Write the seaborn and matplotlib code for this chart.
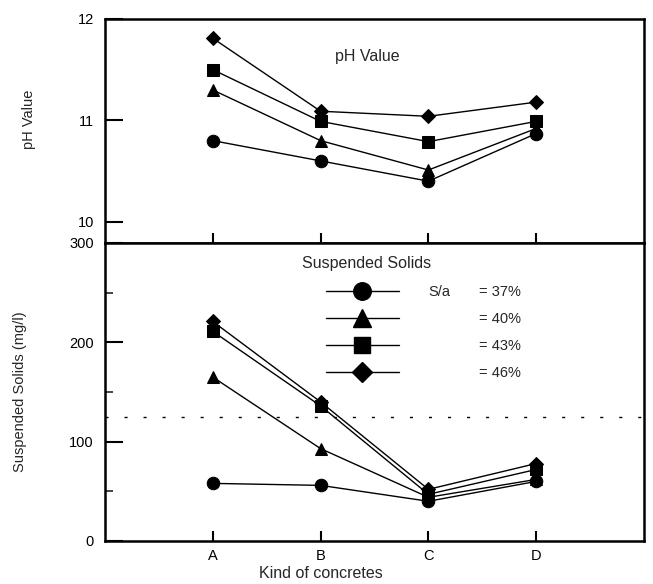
import matplotlib
matplotlib.use('Agg')
import matplotlib.pyplot as plt
import seaborn as sns
import pandas as pd
from matplotlib.lines import Line2D
from matplotlib.ticker import FixedLocator

# ---- data ----
categories = ['A', 'B', 'C', 'D']
sa_labels = ['= 37%', '= 40%', '= 43%', '= 46%']
ph_37 = [10.80, 10.60, 10.40, 10.87]
ph_40 = [11.30, 10.80, 10.51, 10.92]
ph_43 = [11.50, 10.99, 10.79, 10.99]
ph_46 = [11.81, 11.09, 11.04, 11.18]
ss_37 = [58, 56, 40, 60]
ss_40 = [165, 93, 44, 62]
ss_43 = [211, 136, 47, 72]
ss_46 = [221, 140, 52, 78]
ss_limit = 125

ph_series = [ph_37, ph_40, ph_43, ph_46]
ss_series = [ss_37, ss_40, ss_43, ss_46]
markers = ['o', '^', 's', 'D']
msizes = [9, 9, 8.5, 7.5]

rows = []
for lab, ph, ss in zip(sa_labels, ph_series, ss_series):
    for i, c in enumerate(categories):
        rows.append({'Kind': c, 'pos': i, 'S/a': lab, 'pH': ph[i], 'SS': ss[i]})
df = pd.DataFrame(rows)

sns.set_theme(style='white')
plt.rcParams['font.family'] = ['Liberation Sans', 'DejaVu Sans']

fig = plt.figure(figsize=(6.53, 5.84), dpi=100)
W, H = 653, 584
left, right = 105 / W, 644 / W
ax1 = fig.add_axes([left, 1 - 243 / H, right - left, (243 - 19) / H])
ax2 = fig.add_axes([left, 1 - 541 / H, right - left, (541 - 243) / H])

for lab, m, ms in zip(sa_labels, markers, msizes):
    sub = df[df['S/a'] == lab]
    sns.lineplot(data=sub, x='pos', y='pH', marker=m, markersize=ms, color='black',
                 linewidth=1, markeredgecolor='black', ax=ax1, legend=False)
    sns.lineplot(data=sub, x='pos', y='SS', marker=m, markersize=ms, color='black',
                 linewidth=1, markeredgecolor='black', ax=ax2, legend=False)

ax2.axhline(ss_limit, color='black', linewidth=1, linestyle=(0, (2.2, 11.5)))

for ax in (ax1, ax2):
    ax.set_xlim(-1, 4)
    ax.set_xticks(range(len(categories)))
    for s in ax.spines.values():
        s.set_color('black')
        s.set_linewidth(1.8)
    ax.tick_params(axis='both', direction='in', color='black', labelcolor='black',
                   labelsize=10.5, left=True, bottom=True, right=False, top=False)
    ax.tick_params(axis='y', length=13, width=1.5, pad=8)
    ax.tick_params(axis='x', length=7.5, width=1.5, pad=6)

ax1.set_ylim(9.79, 12)
ax1.set_yticks([10, 11, 12])
ax1.set_xticklabels([])
ax1.set_xlabel('')
ax1.set_ylabel('pH Value', fontsize=10.5)
ax1.yaxis.set_label_coords(-0.128, 0.55)
ax1.text(1.43, 11.63, 'pH Value', ha='center', va='center', fontsize=11.5)

ax2.set_ylim(0, 300)
ax2.set_yticks([0, 100, 200, 300])
ax2.yaxis.set_minor_locator(FixedLocator([50, 150, 250]))
ax2.tick_params(axis='y', which='minor', direction='in', length=6, width=1.2, left=True)
ax2.set_xticklabels(categories)
ax2.set_xlabel('Kind of concretes', fontsize=11.5, labelpad=2)
ax2.xaxis.set_label_coords(0.40, -0.085)
ax2.set_ylabel('Suspended Solids (mg/l)', fontsize=10.5)
ax2.yaxis.set_label_coords(-0.145, 0.5)
ax2.text(1.43, 279, 'Suspended Solids', ha='center', va='center', fontsize=11.5)

handles = [Line2D([], [], color='black', lw=1, marker=m, markersize=ms * 1.4,
                  markeredgecolor='black') for m, ms in zip(markers, msizes)]
ax2.legend(handles, sa_labels, loc='upper left', bbox_to_anchor=(0.41, 0.86),
           frameon=False, fontsize=10.5, handlelength=5.0, handletextpad=5.5,
           labelspacing=0.9, borderpad=0, borderaxespad=0)
ax2.text(2.0, 251, 'S/a', ha='left', va='center', fontsize=10.5)

fig.savefig('out.png', dpi=100)
